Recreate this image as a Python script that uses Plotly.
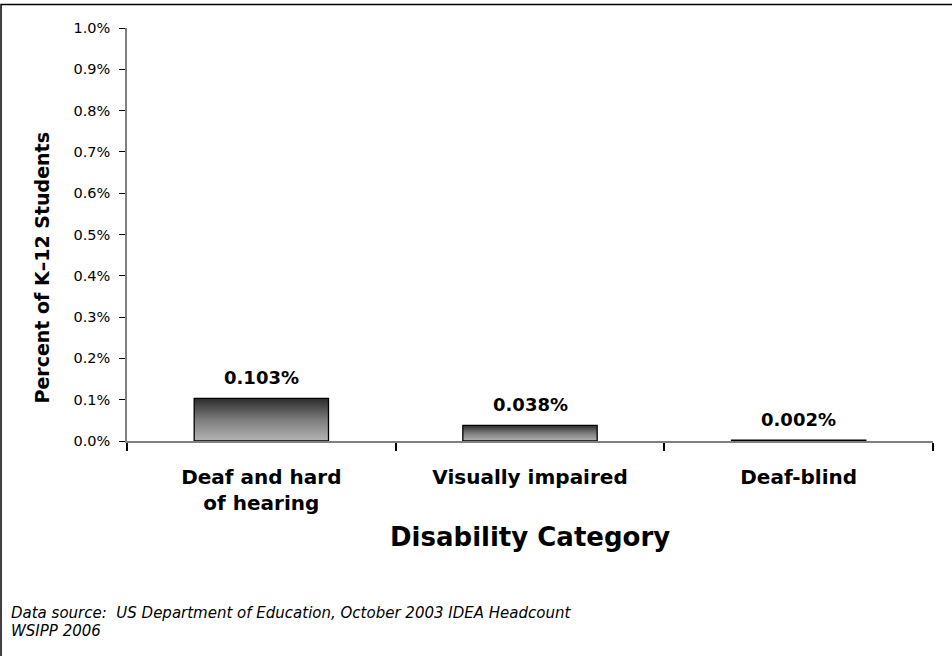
import plotly.graph_objects as go

# Share of K-12 students by low-incidence disability category (percent)
categories = ["Deaf and hard<br>of hearing", "Visually impaired", "Deaf-blind"]
values = [0.103, 0.038, 0.002]
value_labels = ["0.103%", "0.038%", "0.002%"]
y_ticks = [0.0, 0.1, 0.2, 0.3, 0.4, 0.5, 0.6, 0.7, 0.8, 0.9, 1.0]

FONT = "DejaVu Sans, Arial, sans-serif"
BAR_HALF = 0.25

fig = go.Figure()

# Each bar is a filled rectangle with a vertical grey gradient (light at base, dark at top)
for i, v in enumerate(values):
    x0, x1 = i - BAR_HALF, i + BAR_HALF
    fig.add_trace(go.Scatter(
        x=[x0, x1, x1, x0, x0],
        y=[0, 0, v, v, 0],
        mode="lines",
        fill="toself",
        fillgradient=dict(
            type="vertical",
            colorscale=[[0, "#b4b4b4"], [0.5, "#7c7c7c"], [1, "#2c2c2c"]],
        ),
        line=dict(color="#000000", width=1.3),
        hoverinfo="skip",
        showlegend=False,
    ))

# Value labels above bars
for i, (v, lab) in enumerate(zip(values, value_labels)):
    fig.add_annotation(
        x=i, y=v, text=f"<b>{lab}</b>", showarrow=False,
        yanchor="bottom", yshift=8,
        font=dict(family=FONT, size=18, color="#000000"),
    )

fig.update_xaxes(
    range=[-0.5, 2.5],
    tickmode="array",
    tickvals=list(range(len(categories))),
    ticktext=[f"<b>{c}</b>" for c in categories],
    ticks="",
    tickfont=dict(family=FONT, size=20, color="#000000"),
    ticklabelstandoff=17,
    showgrid=False,
    zeroline=False,
    showline=True,
    linecolor="#808080",
    linewidth=1.5,
    minor=dict(
        tickmode="array",
        tickvals=[-0.5, 0.5, 1.5, 2.5],
        ticks="outside",
        ticklen=8,
        tickcolor="#000000",
        tickwidth=1.5,
        showgrid=False,
    ),
)

fig.update_yaxes(
    range=[0, 1.0],
    tickmode="array",
    tickvals=y_ticks,
    ticktext=[f"{t:.1f}%" for t in y_ticks],
    ticks="outside",
    ticklen=6,
    tickcolor="#000000",
    tickfont=dict(family=FONT, size=14.5, color="#000000"),
    ticklabelstandoff=6,
    showgrid=False,
    zeroline=False,
    showline=True,
    linecolor="#808080",
    linewidth=1.5,
)

# Axis titles
fig.add_annotation(
    xref="paper", yref="paper", x=-0.1055, y=0.42,
    xanchor="center", yanchor="middle",
    text="<b>Percent of K\u201312 Students</b>", textangle=-90, showarrow=False,
    font=dict(family=FONT, size=19, color="#000000"),
)
fig.add_annotation(
    xref="paper", yref="paper", x=0.5, y=-0.233,
    xanchor="center", yanchor="middle",
    text="<b>Disability Category</b>", showarrow=False,
    font=dict(family=FONT, size=26, color="#000000"),
)

# Source notes
fig.add_annotation(
    xref="paper", yref="paper", x=-0.147, y=-0.4165,
    xanchor="left", yanchor="middle",
    text="<i>Data source:  US Department of Education, October 2003 IDEA Headcount</i>",
    showarrow=False, font=dict(family=FONT, size=15, color="#000000"),
)
fig.add_annotation(
    xref="paper", yref="paper", x=-0.147, y=-0.46,
    xanchor="left", yanchor="middle",
    text="<i>WSIPP 2006</i>",
    showarrow=False, font=dict(family=FONT, size=15, color="#000000"),
)

# Chart frame
fig.add_shape(
    type="rect", xref="paper", yref="paper",
    x0=-0.1563, x1=1.2, y0=-0.7, y1=1.0569,
    line=dict(color="#000000", width=1.5), fillcolor="rgba(0,0,0,0)",
)

fig.update_layout(
    width=952, height=656,
    margin=dict(l=127, r=19, t=28, b=215),
    paper_bgcolor="#ffffff",
    plot_bgcolor="#ffffff",
    showlegend=False,
)

fig.write_html("out.html")
